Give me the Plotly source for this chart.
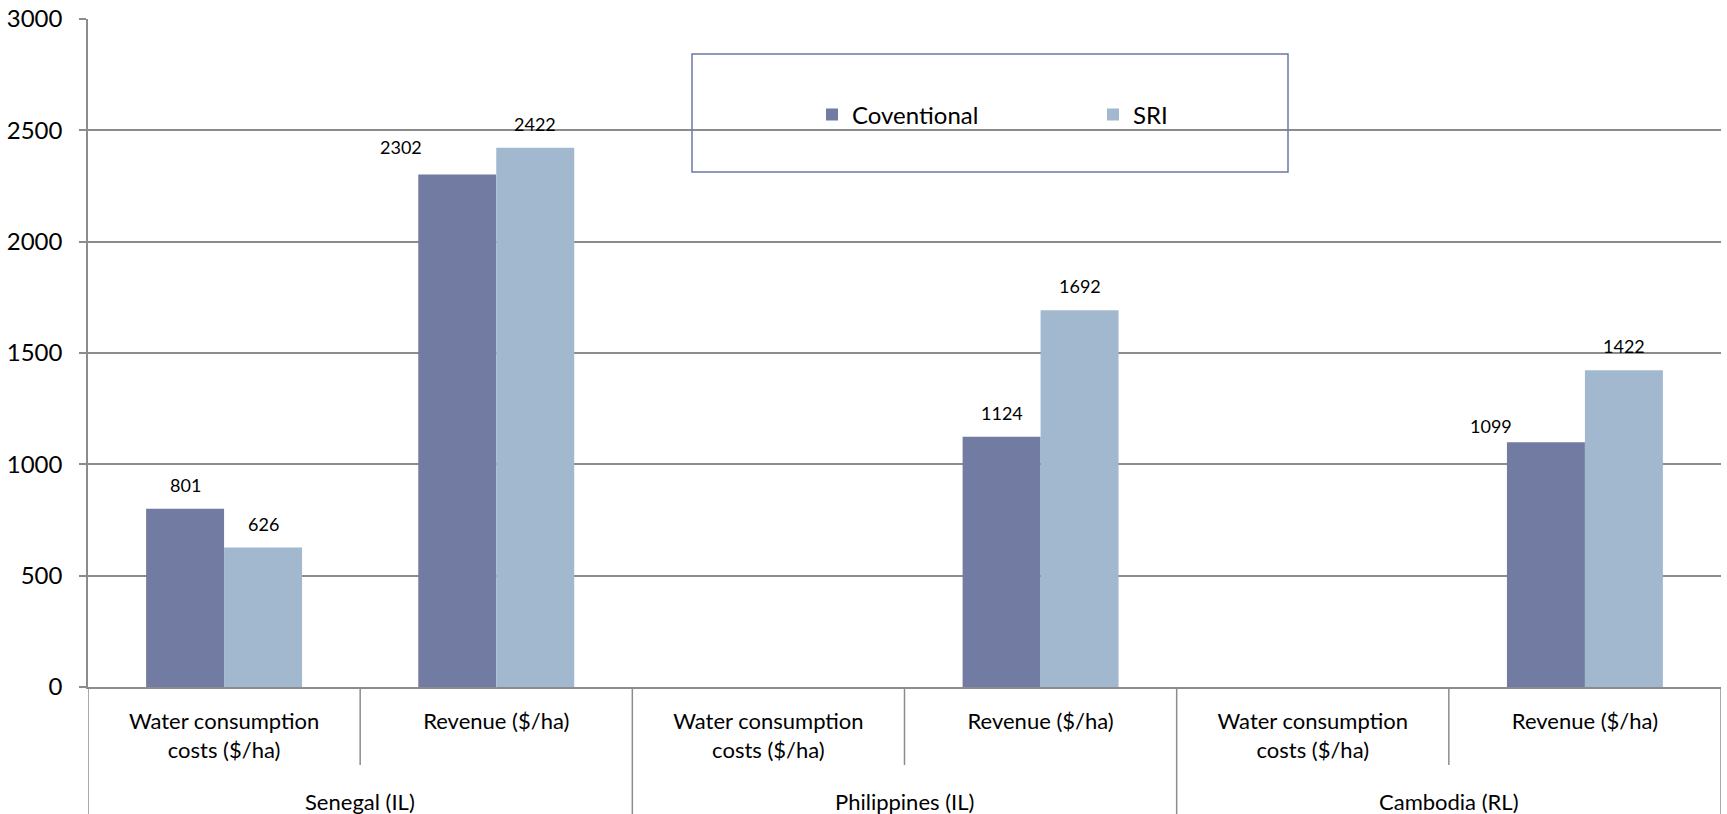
import plotly.graph_objects as go

# ---- data ----
countries = ["Senegal (IL)", "Philippines (IL)", "Cambodia (RL)"]
metrics = ["Water consumption<br>costs ($/ha)", "Revenue ($/ha)"]
series_names = ["Coventional", "SRI"]
conventional = [801, 2302, None, 1124, None, 1099]
sri = [626, 2422, None, 1692, None, 1422]
y_ticks = [0, 500, 1000, 1500, 2000, 2500, 3000]

# ---- style ----
FONT = "Lato, 'Open Sans', sans-serif"
C_CONV = "#727BA2"
C_SRI = "#A2B8CF"
GRID = "#8C8C8C"
BOX = "#6B78A8"
BARGAP = 0.427

keys = [f"{c}|{m}" for c in countries for m in metrics]
ticktext = [m for c in countries for m in metrics]

fig = go.Figure()
fig.add_trace(go.Bar(x=keys, y=conventional, name=series_names[0],
                     marker=dict(color=C_CONV, line=dict(width=0))))
fig.add_trace(go.Bar(x=keys, y=sri, name=series_names[1],
                     marker=dict(color=C_SRI, line=dict(width=0))))

# data labels (manual nudges mimic the reference placement)
W, H = 1727, 814
ML, MR, MT, MB = 88, 6, 19, 127
plot_w = W - ML - MR
plot_h = H - MT - MB
cat_px = plot_w / len(keys)
bar_off = (1 - BARGAP) / 4 * cat_px
nudges = {("c", 1): (-56, 27), ("c", 5): (-55, 16)}
for s, vals, sign in (("c", conventional, -1), ("s", sri, 1)):
    for i, v in enumerate(vals):
        if v is None:
            continue
        dx, dy = nudges.get((s, i), (0, 24))
        fig.add_annotation(x=keys[i], y=v, xref="x", yref="y", text=str(v),
                           showarrow=False, xanchor="center", yanchor="middle",
                           xshift=sign * bar_off + dx, yshift=dy,
                           font=dict(family=FONT, size=18, color="black"))

# category axis dividers and group labels
sub_bottom = -78 / plot_h
grp_bottom = -(MB + 2) / plot_h
n = len(keys)
for i in range(n + 1):
    xpos = i - 0.5
    is_group = (i % len(metrics) == 0)
    fig.add_shape(type="line", xref="x", yref="paper", x0=xpos, x1=xpos,
                  y0=0, y1=grp_bottom if is_group else sub_bottom,
                  line=dict(color=GRID, width=1.5), layer="above")
for gi, c in enumerate(countries):
    fig.add_annotation(x=gi * len(metrics) + (len(metrics) - 1) / 2, y=-114 / plot_h,
                       xref="x", yref="paper", text=c, showarrow=False,
                       xanchor="center", yanchor="middle",
                       font=dict(family=FONT, size=22, color="black"))

# legend frame
fig.add_shape(type="rect", xref="paper", yref="paper",
              x0=(692 - ML) / plot_w, x1=(1288 - ML) / plot_w,
              y0=(H - MB - 172) / plot_h, y1=(H - MB - 54) / plot_h,
              line=dict(color=BOX, width=1.5), fillcolor="rgba(0,0,0,0)", layer="above")

fig.update_layout(
    width=W, height=H,
    margin=dict(l=ML, r=MR, t=MT, b=MB, pad=0, autoexpand=False),
    paper_bgcolor="white", plot_bgcolor="white",
    barmode="group", bargap=BARGAP, bargroupgap=0,
    font=dict(family=FONT, size=22, color="black"),
    showlegend=True,
    legend=dict(orientation="h", x=(812 - ML) / plot_w, xanchor="left",
                y=(H - MB - 115) / plot_h, yanchor="middle",
                bgcolor="rgba(0,0,0,0)", borderwidth=0,
                entrywidth=236, entrywidthmode="pixels",
                font=dict(family=FONT, size=24, color="black")),
)
fig.update_xaxes(type="category", tickvals=keys, ticktext=ticktext, automargin=False,
                 showgrid=False, showline=True, linecolor=GRID, linewidth=1.5,
                 ticks="", ticklabelstandoff=14, tickangle=0,
                 tickfont=dict(family=FONT, size=22, color="black"),
                 range=[-0.5, n - 0.5])
fig.update_yaxes(range=[0, 3000], tickvals=y_ticks, showgrid=True, gridcolor=GRID,
                 automargin=False,
                 gridwidth=1.5, zeroline=False, showline=True, linecolor=GRID,
                 linewidth=1.5, ticks="outside", ticklen=7, tickcolor=GRID,
                 tickwidth=1.5, ticklabelstandoff=12,
                 tickfont=dict(family=FONT, size=24, color="black"))

fig.write_html("out.html", config={"displayModeBar": False},
               post_script="document.body.style.margin='0';")
